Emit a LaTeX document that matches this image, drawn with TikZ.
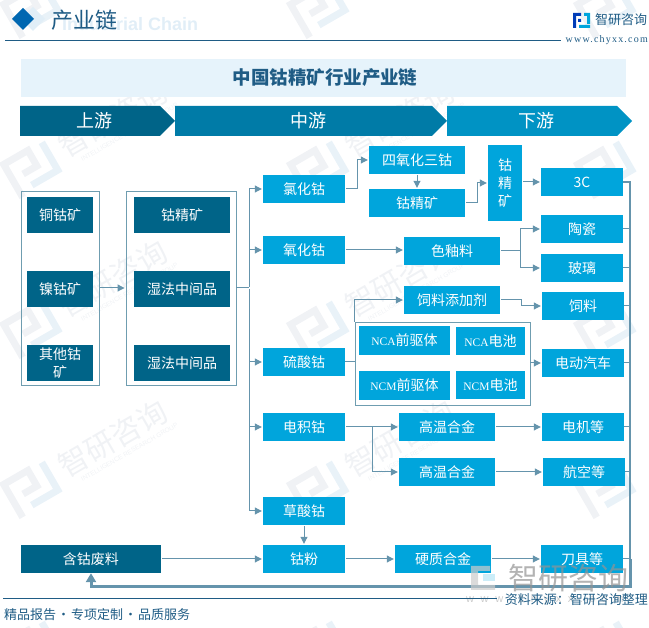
\documentclass[tikz,border=0pt]{standalone}
\usepackage{fontspec}
\usepackage{xcolor}
\setmainfont{Noto Sans CJK SC}
\newfontfamily\latfont{Liberation Serif}
\newfontfamily\sansfont{Liberation Sans}
\usetikzlibrary{arrows.meta, calc, positioning}
\definecolor{cobright}{HTML}{00A5DC}
\definecolor{codark}{HTML}{006488}
\definecolor{comid}{HTML}{007BA7}
\definecolor{colight}{HTML}{0093C4}
\definecolor{coline}{HTML}{6594AC}
\definecolor{coframe}{HTML}{6F9DB0}
\definecolor{coink}{HTML}{1F5C85}
\definecolor{coband}{HTML}{E6F3FB}
\definecolor{comark}{HTML}{F0F2F5}
\definecolor{comarkb}{HTML}{E9F2F8}
\definecolor{cosub}{HTML}{E1EEF7}
\tikzset{
    cobox/.style={fill=cobright, text=white, inner sep=0pt, align=center,
        minimum width=82pt, minimum height=28pt, font=\fontsize{14}{18}\selectfont},
    widebox/.style={cobox, minimum width=96pt},
    orebox/.style={cobox, fill=codark},
    framebox/.style={draw=coframe, line width=0.9pt, fill=none, inner sep=0pt, minimum height=194pt},
    link/.style={draw=coline, line width=1pt},
    flow/.style={link, shorten <=1pt, shorten >=1pt, -{Triangle[length=7pt,width=7pt]}},
    wmtext/.style={text=comark, transform shape, inner sep=0pt}
}
\begin{document}
\begin{tikzpicture}[x=1pt,y=-1pt]
\useasboundingbox (0,0) rectangle (649,628);

% watermark tiles
\begin{scope}
\clip (0,0) rectangle (649,628);
\foreach \wx in {30,317,604} {
    \foreach \wy in {10,170,330,490,650} {
        \begin{scope}[shift={(\wx,\wy)},rotate=30]
        \draw[comark, line width=7pt] (-20,20) -- (-20,-18) -- (8,-18) -- (8,0) -- (-8,0);
        \draw[comarkb, line width=7pt] (24,-18) -- (24,14) -- (-6,14);
        \end{scope}
    }
}
\foreach \wx [count=\i] in {30,317} {
    \foreach \wy [count=\j] in {170,330,490} {
        \begin{scope}[shift={(\wx,\wy)},rotate=30]
        \node[wmtext, font=\fontsize{30}{32}\selectfont] (wmname\i\j) at (97,-3) {智研咨询};
        \node[wmtext, font=\sansfont\fontsize{6.5}{8}\selectfont] (wmsub\i\j) at (105,17) {INTELLIGENCE RESEARCH GROUP};
        \end{scope}
    }
}
\end{scope}

% header
\node[text=cosub, anchor=west, inner sep=0pt, font=\sansfont\bfseries\fontsize{18}{20}\selectfont] (subhead) at (62,24) {Industrial Chain};
\fill[cosub] (33,7) -- (45,19) -- (33,31) -- (21,19) -- cycle;
\fill[colight!45!codark!85!blue] (23,8) -- (34,19) -- (23,30) -- (12,19) -- cycle;
\node[text=coink, anchor=west, inner sep=0pt, font=\fontsize{22}{24}\selectfont] (head) at (51,20) {产业链};
\draw[coink, line width=1pt] (5,40.5) -- (561,40.5);
\fill[codark!60!blue] (573,13) rectangle (581,16) (573,13) rectangle (576,28) (578,19) rectangle (581,22);
\fill[cobright] (584,13) rectangle (590,16) (587,13) rectangle (590,24) (579,25) rectangle (590,28);
\node[text=coink, anchor=west, inner sep=0pt, font=\fontsize{13}{15}\selectfont] (brand) at (595,20) {智研咨询};
\node[text=coink, anchor=east, inner sep=0pt, font=\latfont\addfontfeature{LetterSpace=12}\fontsize{10}{12}\selectfont] (site) at (648,40) {www.chyxx.com};

% title band
\fill[coband] (21,59) rectangle (626,97);
\node[text=coink, inner sep=0pt, font=\bfseries\fontsize{18.5}{20}\selectfont] (title) at (325,78) {中国钴精矿行业产业链};

% stream chevrons
\foreach \xa/\xb/\xt/\col/\txt in {20/160/94/codark/上游, 175/432/308/comid/中游, 447/617/536/colight/下游} {
    \fill[\col] (\xa,106) -- (\xb,106) -- (\xb+15,121) -- (\xb,136) -- (\xa,136) -- cycle;
    \node[text=white, inner sep=0pt, font=\fontsize{18}{20}\selectfont] (stream\xa) at (\xt,121) {\txt};
}

% upstream
\node[framebox, minimum width=78pt] (mineFrame) at (60,288) {};
\node[framebox, minimum width=110pt] (midFrame) at (181,288) {};
\node[orebox, minimum width=66pt, minimum height=36pt] (copper) at (60,215) {铜钴矿};
\node[orebox, minimum width=66pt, minimum height=36pt] (nickel) at (60,289) {镍钴矿};
\node[orebox, minimum width=66pt, minimum height=36pt] (otherOre) at (60,363) {其他钴\\矿};
\node[orebox, minimum width=96pt, minimum height=36pt] (conc) at (182,215) {钴精矿};
\node[orebox, minimum width=96pt, minimum height=36pt] (wetA) at (182,289) {湿法中间品};
\node[orebox, minimum width=96pt, minimum height=36pt] (wetB) at (182,363) {湿法中间品};

% midstream
\node[cobox] (chloride) at (304,189) {氯化钴};
\node[cobox] (oxide) at (304,250) {氧化钴};
\node[cobox] (sulfate) at (304,362) {硫酸钴};
\node[cobox] (electro) at (304,427) {电积钴};
\node[cobox] (oxalate) at (304,511) {草酸钴};
\node[cobox] (powder) at (304,559) {钴粉};
\node[widebox] (tetroxide) at (417,160) {四氧化三钴};
\node[widebox] (concB) at (417,203) {钴精矿};
\node[cobox, minimum width=34pt, minimum height=76pt, font=\fontsize{14}{18}\selectfont] (concC) at (505,183) {钴\\精\\矿};
\node[widebox] (glaze) at (452,251) {色釉料};
\node[widebox] (additive) at (452,300) {饲料添加剂};
\node[framebox, minimum width=175pt, minimum height=83pt] (packBox) at (442.5,363.5) {};
\node[cobox, minimum width=91pt, minimum height=29pt] (ncaPre) at (404.5,340.5) {{\latfont\fontsize{11.5}{14}\selectfont NCA}前驱体};
\node[cobox, minimum width=69pt, minimum height=28pt] (ncaCell) at (490.5,341) {{\latfont\fontsize{11.5}{14}\selectfont NCA}电池};
\node[cobox, minimum width=91pt, minimum height=29pt] (ncmPre) at (404.5,385.5) {{\latfont\fontsize{11.5}{14}\selectfont NCM}前驱体};
\node[cobox, minimum width=69pt, minimum height=28pt] (ncmCell) at (490.5,385) {{\latfont\fontsize{11.5}{14}\selectfont NCM}电池};
\node[widebox] (alloyA) at (447,427) {高温合金};
\node[widebox] (alloyB) at (447,472) {高温合金};
\node[widebox] (hardAlloy) at (443,559) {硬质合金};
\node[orebox, minimum width=140pt] (scrap) at (91,559) {含钴废料};

% downstream
\node[cobox] (threeC) at (582,182) {3C};
\node[cobox] (ceramic) at (582,229) {陶瓷};
\node[cobox] (glass) at (582,268) {玻璃};
\node[cobox] (feed) at (583,306) {饲料};
\node[cobox] (ev) at (583,363) {电动汽车};
\node[cobox] (motor) at (583,427) {电机等};
\node[cobox] (aviation) at (584,472) {航空等};
\node[cobox] (tools) at (582,559) {刀具等};

% upstream links
\coordinate (hub) at (249,288);
\draw[flow] (mineFrame.east) -- (midFrame.west);
\draw[link] (midFrame.east) -- (hub);
\foreach \t in {chloride,oxide,sulfate,electro,oxalate} {
    \draw[flow] (hub) |- (\t.west);
}

% midstream links
\draw[flow] (chloride.east) -- ++(12,0) |- (tetroxide.west);
\draw[flow] (tetroxide.south) -- (concB.north);
\draw[flow] (concB.east) -- ++(12,0) |- (concC.west);
\draw[flow] (concC.east |- threeC.west) -- (threeC.west);
\draw[flow] (oxide.east) -- (glaze.west |- oxide.east);
\draw[flow] (glaze.east) -- ++(20,0) |- (ceramic.west);
\draw[flow] (glaze.east) -- ++(20,0) |- (glass.west);
\draw[link] (sulfate.east) -- (packBox.west |- sulfate.east);
\draw[flow, shorten <=0pt] (packBox.north west) |- (additive.west);
\draw[flow] (additive.east) -- ++(21,0) |- (feed.west);
\draw[flow, shorten <=0pt] (packBox.east |- ev.west) -- (ev.west);
\draw[flow] (electro.east) -- (alloyA.west);
\draw[flow] (electro.east) -- ++(27,0) |- (alloyB.west);
\draw[flow] (alloyA.east) -- (motor.west);
\draw[flow] (alloyB.east) -- (aviation.west);
\draw[flow] (oxalate.south) -- (powder.north);
\draw[flow] (scrap.east) -- (powder.west);
\draw[flow] (powder.east) -- (hardAlloy.west);
\draw[flow] (hardAlloy.east) -- (tools.west);

% recycling bus
\coordinate (busTop) at (630,182);
\coordinate (busLow) at (630,559);
\coordinate (busEnd) at (630,587);
\draw[link, line width=1.4pt] (threeC.east) -- (busTop) -- (busLow);
\foreach \t in {ceramic,glass,feed,ev,motor,aviation,tools} {
    \draw[link] (\t.east) -- (\t.east -| busTop);
}
\draw[coline, line width=3pt, line join=miter, -{Triangle[length=9pt,width=10pt]}] (busLow) -- (busEnd) -| (scrap.south);

% source mark and footer
\fill[gray!40, opacity=.7] (471,566) rectangle (478,590) (471,566) rectangle (490,571) (471,585) rectangle (495,590);
\fill[cobright!25, opacity=.8] (483,574) rectangle (495,581);
\node[text=gray!85, opacity=.7, inner sep=0pt, font=\fontsize{30}{32}\selectfont] (markName) at (568,578) {智研咨询};
\node[text=gray!40, anchor=west, inner sep=0pt, font=\sansfont\addfontfeature{LetterSpace=60}\fontsize{11}{13}\selectfont] (markSite) at (466,600) {www.chyxx.com};
\draw[coink, line width=1pt] (3,599) -- (497,599);
\node[text=coink, anchor=east, inner sep=0pt, font=\fontsize{13}{15}\selectfont] (source) at (648,600) {资料来源：智研咨询整理};
\node[text=coink, anchor=west, inner sep=0pt, font=\fontsize{13}{15}\selectfont] (slogan) at (4,615) {精品报告\hspace{1pt}·\hspace{1pt}专项定制\hspace{1pt}·\hspace{1pt}品质服务};
\end{tikzpicture}
\end{document}
